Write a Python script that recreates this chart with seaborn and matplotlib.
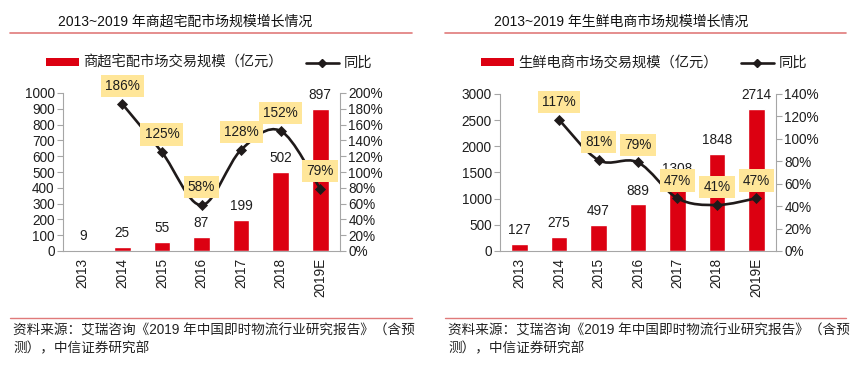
import numpy as np
import pandas as pd
import matplotlib
matplotlib.use("Agg")
import matplotlib.pyplot as plt
import seaborn as sns
from matplotlib.path import Path
from matplotlib.patches import PathPatch, Patch
from matplotlib.lines import Line2D

# ---------------- data ----------------
years = ["2013", "2014", "2015", "2016", "2017", "2018", "2019E"]
growth_years = ["2014", "2015", "2016", "2017", "2018", "2019E"]

left_title = "2013~2019 年商超宅配市场规模增长情况"
left_bar_name = "商超宅配市场交易规模（亿元）"
left_bars = [9, 25, 55, 87, 199, 502, 897]
left_growth = [186, 125, 58, 128, 152, 79]

right_title = "2013~2019 年生鲜电商市场规模增长情况"
right_bar_name = "生鲜电商市场交易规模（亿元）"
right_bars = [127, 275, 497, 889, 1308, 1848, 2714]
right_growth = [117, 81, 79, 47, 41, 47]

line_name = "同比"
source_text = "资料来源：艾瑞咨询《2019 年中国即时物流行业研究报告》（含预\n测），中信证券研究部"

# ---------------- style ----------------
sns.set_theme(style="white")
plt.rcParams["font.family"] = ["Liberation Sans", "Noto Sans CJK SC", "DejaVu Sans"]

RED = "#DC0011"
BOX = "#FFE699"
LINE = "#1F1A1A"
SPINE = "#A6A6A6"
TXT = "#1E1E1E"
ACCENT = "#E07A7A"
FS = 9.8

W, H = 864, 368
fig = plt.figure(figsize=(W / 100, H / 100), dpi=100)


def px(x0, y0, x1, y1):
    return [x0 / W, 1 - y1 / H, (x1 - x0) / W, (y1 - y0) / H]


def smooth_path(xs, ys):
    pts = np.column_stack([xs, ys]).astype(float)
    n = len(pts)
    verts = [pts[0]]
    codes = [Path.MOVETO]
    for i in range(n - 1):
        p0 = pts[i - 1] if i > 0 else pts[i]
        p1 = pts[i]
        p2 = pts[i + 1]
        p3 = pts[i + 2] if i + 2 < n else pts[i + 1]
        c1 = p1 + (p2 - p0) / 6.0
        c2 = p2 - (p3 - p1) / 6.0
        verts += [c1, c2, p2]
        codes += [Path.CURVE4] * 3
    return Path(verts, codes)


def panel(rect, bars, growth, ymax, ystep, gmax, gstep, bar_name,
          title, title_x, line_x0, line_x1, legend_cx):
    ax = fig.add_axes(rect)
    df = pd.DataFrame({"year": years, "value": bars})
    sns.barplot(data=df, x="year", y="value", order=years, color=RED,
                width=0.42, saturation=1, ax=ax, zorder=2)
    ax.set_xlim(-0.5, len(years) - 0.5)
    ax.set_ylim(0, ymax)
    ax.set_yticks(np.arange(0, ymax + 1, ystep))
    ax.set_xlabel("")
    ax.set_ylabel("")
    ax.set_xticks(range(len(years)))
    ax.set_xticklabels(years, rotation=90, fontsize=FS, color=TXT)
    ax.set_xticks(np.arange(-0.5, len(years), 1.0), minor=True)
    ax.tick_params(axis="x", which="major", length=0, pad=5)
    ax.tick_params(axis="x", which="minor", length=4, color=SPINE, width=0.8,
                   direction="out")
    ax.tick_params(axis="y", length=4, color=SPINE, width=0.8, direction="out",
                   labelsize=FS, labelcolor=TXT, pad=2, left=True)
    for s in ["top", "right"]:
        ax.spines[s].set_visible(False)
    for s in ["left", "bottom"]:
        ax.spines[s].set_color(SPINE)
        ax.spines[s].set_linewidth(0.8)
    for c in ax.containers:
        ax.bar_label(c, labels=[str(v) for v in bars], padding=5, fontsize=FS,
                     color=TXT, zorder=3)

    ax2 = ax.twinx()
    gx = [years.index(y) for y in growth_years]
    patch = PathPatch(smooth_path(gx, growth), fc="none", ec=LINE, lw=1.9,
                      zorder=4)
    ax2.add_patch(patch)
    gdf = pd.DataFrame({"x": gx, "g": growth})
    sns.scatterplot(data=gdf, x="x", y="g", marker="D", s=32, color=LINE,
                    edgecolor=LINE, linewidth=0, ax=ax2, zorder=5, legend=False)
    ax2.set_ylim(0, gmax)
    ax2.set_yticks(np.arange(0, gmax + 1, gstep))
    ax2.set_yticklabels([f"{int(v)}%" for v in np.arange(0, gmax + 1, gstep)])
    ax2.set_xlim(-0.5, len(years) - 0.5)
    ax2.set_xlabel("")
    ax2.set_ylabel("")
    ax2.tick_params(axis="y", length=4, color=SPINE, width=0.8, direction="out",
                    labelsize=FS, labelcolor=TXT, pad=2, right=True)
    for s in ["top", "left", "bottom"]:
        ax2.spines[s].set_visible(False)
    ax2.spines["right"].set_color(SPINE)
    ax2.spines["right"].set_linewidth(0.8)
    for x, g in zip(gx, growth):
        ax2.annotate(f"{g}%", xy=(x, g), xytext=(0, 12.8),
                     textcoords="offset points", ha="center", va="center",
                     fontsize=FS, color=TXT, zorder=6,
                     bbox=dict(boxstyle="square,pad=0.3", fc=BOX, ec="none"))

    handles = [Patch(fc=RED, ec="none", label=bar_name),
               Line2D([], [], color=LINE, lw=1.9, marker="D", ms=4.5,
                      label=line_name)]
    fig.legend(handles=handles, loc="center", ncol=2, frameon=False,
               bbox_to_anchor=(legend_cx / W, 1 - 63 / H), fontsize=10.3,
               handlelength=2.3, handleheight=0.45, handletextpad=0.35,
               columnspacing=1.6, borderpad=0, labelcolor=TXT)

    fig.text(title_x / W, 1 - 22 / H, title, fontsize=10, color="#111111",
             ha="left", va="center")
    fig.add_artist(Line2D([line_x0 / W, line_x1 / W], [1 - 33 / H, 1 - 33 / H],
                          color=ACCENT, lw=1.2))
    fig.add_artist(Line2D([line_x0 / W, line_x1 / W], [1 - 318 / H, 1 - 318 / H],
                          color=ACCENT, lw=1.0))
    fig.text((line_x0 + 3) / W, 1 - 323 / H, source_text, fontsize=9.8,
             color="#222222", ha="left", va="top", linespacing=1.35,
             transform=fig.transFigure)
    return ax, ax2


panel(px(63, 93, 340, 251), left_bars, left_growth, 1000, 100, 200, 20,
      left_bar_name, left_title, 58, 10, 412, 209)
panel(px(500, 94, 776, 251), right_bars, right_growth, 3000, 500, 140, 20,
      right_bar_name, right_title, 494, 445, 846, 644)

fig.savefig("out.png", dpi=100)
